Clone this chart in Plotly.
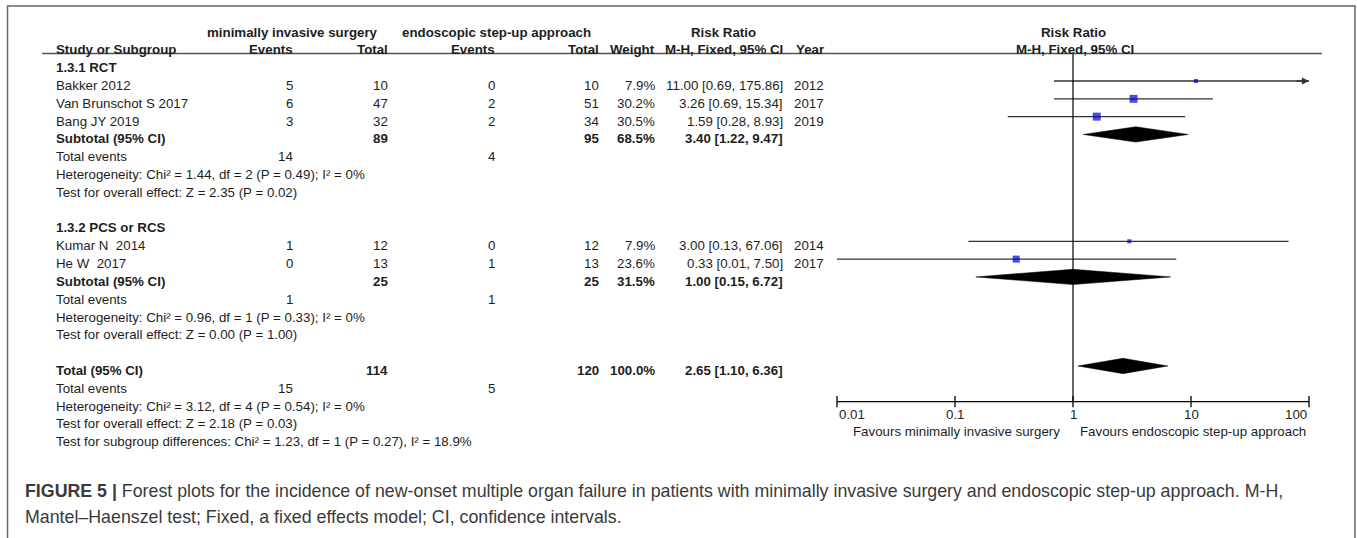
import math
import plotly.graph_objects as go

# ---------------- data ----------------
studies = ["Bakker 2012", "Van Brunschot S 2017", "Bang JY 2019", "Kumar N\u00a0 2014", "He W\u00a0 2017"]
study_group = [0, 0, 0, 1, 1]
mis_events = [5, 6, 3, 1, 0]
mis_total = [10, 47, 32, 12, 13]
esu_events = [0, 2, 2, 0, 1]
esu_total = [10, 51, 34, 12, 13]
weights = [7.9, 30.2, 30.5, 7.9, 23.6]
rr = [11.00, 3.26, 1.59, 3.00, 0.33]
rr_lo = [0.69, 0.69, 0.28, 0.13, 0.01]
rr_hi = [175.86, 15.34, 8.93, 67.06, 7.50]
years = [2012, 2017, 2019, 2014, 2017]

subgroup_names = ["1.3.1 RCT", "1.3.2 PCS or RCS"]
sub_mis_total = [89, 25]
sub_esu_total = [95, 25]
sub_weight = [68.5, 31.5]
sub_rr = [3.40, 1.00]
sub_lo = [1.22, 0.15]
sub_hi = [9.47, 6.72]
sub_mis_events = [14, 1]
sub_esu_events = [4, 1]
sub_het = ["Heterogeneity: Chi² = 1.44, df = 2 (P = 0.49); I² = 0%",
           "Heterogeneity: Chi² = 0.96, df = 1 (P = 0.33); I² = 0%"]
sub_test = ["Test for overall effect: Z = 2.35 (P = 0.02)",
            "Test for overall effect: Z = 0.00 (P = 1.00)"]

total_mis = 114
total_esu = 120
total_weight = 100.0
total_rr = 2.65
total_lo = 1.10
total_hi = 6.36
total_mis_events = 15
total_esu_events = 5
total_het = "Heterogeneity: Chi² = 3.12, df = 4 (P = 0.54); I² = 0%"
total_test = "Test for overall effect: Z = 2.18 (P = 0.03)"
subgroup_test = "Test for subgroup differences: Chi² = 1.23, df = 1 (P = 0.27), I² = 18.9%"

tick_vals = [0.01, 0.1, 1, 10, 100]
tick_text = ["0.01", "0.1", "1", "10", "100"]
favours_left = "Favours minimally invasive surgery"
favours_right = "Favours endoscopic step-up approach"

caption_bold = "FIGURE 5 |"
caption_1 = " Forest plots for the incidence of new-onset multiple organ failure in patients with minimally invasive surgery and endoscopic step-up approach. M-H,"
caption_2 = "Mantel–Haenszel test; Fixed, a fixed effects model; CI, confidence intervals."

# ---------------- layout constants ----------------
W, H = 1357, 538
ROW0_PX, ROW_PX = 63.2, 17.81          # pixel of row 0 and row pitch
TEXT_SHIFT = -4.5
FONT = "Liberation Sans, Arial, Helvetica, sans-serif"
CAP_FONT = "Liberation Sans, Arial, Helvetica, sans-serif"
TXT = "#1e1e1e"
FS = 13.3
XMIN, XMAX = tick_vals[0], tick_vals[-1]

# column right edges (px)
C_NAME = 54
C_ME, C_MT, C_EE, C_ET, C_W, C_RR, C_Y = 295, 390, 497, 601, 657, 785, 826

ann = []
def txt(xpx, k, s, anchor="right", bold=False, color=TXT, size=FS):
    ann.append(dict(xref="paper", x=xpx / W, yref="y", y=k,
                    text=("<b>%s</b>" % s) if bold else s,
                    xanchor=anchor, yanchor="middle", yshift=TEXT_SHIFT,
                    showarrow=False, font=dict(family=FONT, size=size, color=color)))

def rrfmt(e, l, h):
    return "%.2f [%.2f, %.2f]" % (e, l, h)

# headers
txt(292, -2, "minimally invasive surgery", "center", True)
txt(496, -2, "endoscopic step-up approach", "center", True)
txt(723, -2, "Risk Ratio", "center", True)
ann.append(dict(xref="x", x=0, yref="y", y=-2, text="<b>Risk Ratio</b>", xanchor="center",
                yanchor="middle", yshift=TEXT_SHIFT, showarrow=False,
                font=dict(family=FONT, size=FS, color=TXT)))
txt(C_NAME, -1, "Study or Subgroup", "left", True)
txt(C_ME, -1, "Events", bold=True)
txt(C_MT, -1, "Total", bold=True)
txt(C_EE, -1, "Events", bold=True)
txt(C_ET, -1, "Total", bold=True)
txt(C_W, -1, "Weight", bold=True)
txt(C_RR, -1, "M-H, Fixed, 95% CI", bold=True)
txt(C_Y, -1, "Year", bold=True)
ann.append(dict(xref="x", x=0, yref="y", y=-1, text="<b>M-H, Fixed, 95% CI</b>", xanchor="center",
                xshift=2, yanchor="middle", yshift=TEXT_SHIFT, showarrow=False,
                font=dict(family=FONT, size=FS, color=TXT)))

# rows
study_rows = []
sub_rows = []
k = 0
for g in range(len(subgroup_names)):
    txt(C_NAME, k, subgroup_names[g], "left", True)
    k += 1
    for i in range(len(studies)):
        if study_group[i] != g:
            continue
        txt(C_NAME, k, studies[i], "left")
        txt(C_ME, k, str(mis_events[i]))
        txt(C_MT, k, str(mis_total[i]))
        txt(C_EE, k, str(esu_events[i]))
        txt(C_ET, k, str(esu_total[i]))
        txt(C_W, k, "%.1f%%" % weights[i])
        txt(C_RR, k, rrfmt(rr[i], rr_lo[i], rr_hi[i]))
        txt(C_Y, k, str(years[i]))
        study_rows.append(k)
        k += 1
    txt(C_NAME, k, "Subtotal (95% CI)", "left", True)
    txt(C_MT, k, str(sub_mis_total[g]), bold=True)
    txt(C_ET, k, str(sub_esu_total[g]), bold=True)
    txt(C_W, k, "%.1f%%" % sub_weight[g], bold=True)
    txt(C_RR, k, rrfmt(sub_rr[g], sub_lo[g], sub_hi[g]), bold=True)
    sub_rows.append(k)
    k += 1
    txt(C_NAME, k, "Total events", "left")
    txt(C_ME, k, str(sub_mis_events[g]))
    txt(C_EE, k, str(sub_esu_events[g]))
    k += 1
    txt(C_NAME, k, sub_het[g], "left")
    k += 1
    txt(C_NAME, k, sub_test[g], "left")
    k += 2

total_row = k
txt(C_NAME, k, "Total (95% CI)", "left", True)
txt(C_MT, k, str(total_mis), bold=True)
txt(C_ET, k, str(total_esu), bold=True)
txt(C_W, k, "%.1f%%" % total_weight, bold=True)
txt(C_RR, k, rrfmt(total_rr, total_lo, total_hi), bold=True)
k += 1
txt(C_NAME, k, "Total events", "left")
txt(C_ME, k, str(total_mis_events))
txt(C_EE, k, str(total_esu_events))
k += 1
axis_row = k
txt(C_NAME, k, total_het, "left")
k += 1
txt(C_NAME, k, total_test, "left")
k += 1
txt(C_NAME, k, subgroup_test, "left")

header_line_row = -0.545

fig = go.Figure()

# confidence interval lines
cx, cy = [], []
for i, r in enumerate(study_rows):
    cx += [max(rr_lo[i], XMIN), min(rr_hi[i], XMAX), None]
    cy += [r, r, None]
fig.add_trace(go.Scatter(x=cx, y=cy, mode="lines", line=dict(color="#333333", width=1.3),
                         hoverinfo="skip", showlegend=False))
# arrows for truncated CIs
for i, r in enumerate(study_rows):
    if rr_hi[i] > XMAX:
        ann.append(dict(xref="x", yref="y", x=math.log10(XMAX), y=r, ax=-14, ay=0,
                        axref="pixel", ayref="pixel", text="", showarrow=True,
                        arrowhead=2, arrowsize=1.1, arrowwidth=1.3, arrowcolor="#333333"))

# study squares
fig.add_trace(go.Scatter(x=rr, y=study_rows, mode="markers",
                         marker=dict(symbol="square", color="#0000CC",
                                     size=[1.45 * math.sqrt(w) for w in weights],
                                     line=dict(width=0)),
                         hoverinfo="skip", showlegend=False, cliponaxis=False))

# diamonds
DH = 0.43
def diamond(e, l, h, r):
    fig.add_trace(go.Scatter(x=[l, e, h, e, l], y=[r, r - DH, r, r + DH, r], mode="lines",
                             fill="toself", fillcolor="black", line=dict(color="black", width=0.5),
                             hoverinfo="skip", showlegend=False))
for g, r in enumerate(sub_rows):
    diamond(sub_rr[g], sub_lo[g], sub_hi[g], r)
diamond(total_rr, total_lo, total_hi, total_row)

# line of no effect
fig.add_trace(go.Scatter(x=[1, 1], y=[header_line_row, axis_row], mode="lines",
                         line=dict(color="black", width=1.2), hoverinfo="skip", showlegend=False))

# axis line and ticks
fig.add_trace(go.Scatter(x=[XMIN, XMAX], y=[axis_row, axis_row], mode="lines",
                         line=dict(color="black", width=1.3), hoverinfo="skip", showlegend=False))
fig.add_trace(go.Scatter(x=tick_vals, y=[axis_row] * len(tick_vals), mode="markers",
                         marker=dict(symbol="line-ns", size=8, line=dict(color="black", width=1.3)),
                         hoverinfo="skip", showlegend=False, cliponaxis=False))
for j, (tv, tt) in enumerate(zip(tick_vals, tick_text)):
    anchor = "left" if j == 0 else ("right" if j == len(tick_vals) - 1 else "center")
    ann.append(dict(xref="x", x=math.log10(tv), yref="y", y=axis_row + 0.5, text=tt,
                    xanchor=anchor, yanchor="middle", yshift=TEXT_SHIFT, showarrow=False,
                    font=dict(family=FONT, size=FS, color=TXT)))
ann.append(dict(xref="x", x=0, xshift=-11, yref="y", y=axis_row + 1.45, text=favours_left,
                xanchor="right", yanchor="middle", yshift=TEXT_SHIFT, showarrow=False,
                font=dict(family=FONT, size=FS, color=TXT)))
ann.append(dict(xref="x", x=0, xshift=5, yref="y", y=axis_row + 1.45, text=favours_right,
                xanchor="left", yanchor="middle", yshift=TEXT_SHIFT, showarrow=False,
                font=dict(family=FONT, size=FS, color=TXT)))

# caption
ann.append(dict(xref="paper", yref="paper", x=23 / W, y=1 - 491 / H,
                text="<b>%s</b>%s" % (caption_bold, caption_1), xanchor="left", yanchor="middle",
                showarrow=False, font=dict(family=CAP_FONT, size=17.8, color="#3a3a3a")))
ann.append(dict(xref="paper", yref="paper", x=23 / W, y=1 - 517 / H,
                text=caption_2, xanchor="left", yanchor="middle",
                showarrow=False, font=dict(family=CAP_FONT, size=17.8, color="#3a3a3a")))

shapes = [
    dict(type="line", xref="paper", yref="y", x0=42 / W, x1=1322 / W,
         y0=header_line_row, y1=header_line_row, line=dict(color="#555555", width=1.5)),
    dict(type="rect", xref="paper", yref="paper", x0=7.5 / W, x1=1355 / W, y0=-0.05, y1=1 - 6 / H,
         line=dict(color="#666666", width=1.5)),
]

y_top = -ROW0_PX / ROW_PX
y_bot = (H - ROW0_PX) / ROW_PX
fig.update_layout(
    width=W, height=H, autosize=False,
    margin=dict(l=0, r=0, t=0, b=0),
    paper_bgcolor="white", plot_bgcolor="white",
    xaxis=dict(type="log", range=[math.log10(XMIN), math.log10(XMAX)],
               domain=[837 / W, 1309 / W], visible=False, fixedrange=True),
    yaxis=dict(range=[y_bot, y_top], domain=[0, 1], visible=False, fixedrange=True),
    annotations=ann, shapes=shapes, showlegend=False,
)
fig.write_html("out.html", config={"displayModeBar": False},
               post_script="document.body.style.margin='0';document.body.style.padding='0';")
